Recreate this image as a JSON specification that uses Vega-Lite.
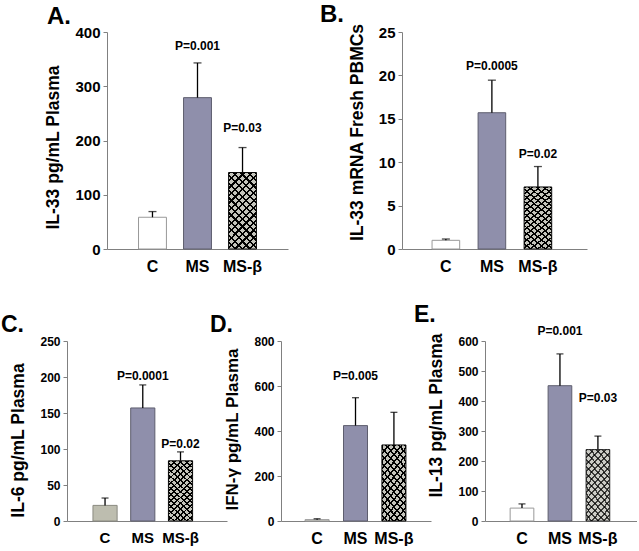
{
  "$schema": "https://vega.github.io/schema/vega-lite/v6.json",
  "background": "white",
  "padding": {"left": 1, "top": 3, "right": 0, "bottom": 0},
  "config": {
    "font": "Liberation Sans",
    "view": {"stroke": null},
    "axis": {"labelFont": "Liberation Sans", "titleFont": "Liberation Sans", "labelFontWeight": "bold", "titleFontWeight": "bold", "labelColor": "black", "titleColor": "black", "domainColor": "#808080", "tickColor": "#808080", "grid": false},
    "axisX": {"ticks": false, "labelAngle": 0, "title": null, "labelPadding": 9},
    "axisY": {"tickSize": 4, "labelPadding": 3, "titleAngle": -90, "labelOverlap": false},
    "title": {"font": "Liberation Sans", "fontWeight": "bold", "fontSize": 24, "anchor": "start", "frame": "group", "color": "black", "offset": -4},
    "text": {"font": "Liberation Sans", "fontWeight": "bold", "fontSize": 12}
  },
  "datasets": {
    "bars": [
      {"panel": "A", "group": "C", "value": 58.5, "err": 69, "p": "", "p_at": 0},
      {"panel": "A", "group": "MS", "value": 279, "err": 343, "p": "P=0.001", "p_at": 375},
      {"panel": "A", "group": "MS-β", "value": 141, "err": 187, "p": "P=0.03", "p_at": 223},
      {"panel": "B", "group": "C", "value": 1.0, "err": 1.15, "p": "", "p_at": 0},
      {"panel": "B", "group": "MS", "value": 15.7, "err": 19.45, "p": "P=0.0005", "p_at": 21.1},
      {"panel": "B", "group": "MS-β", "value": 7.15, "err": 9.5, "p": "P=0.02", "p_at": 10.9},
      {"panel": "C", "group": "C", "value": 21.7, "err": 31.9, "p": "", "p_at": 0},
      {"panel": "C", "group": "MS", "value": 157, "err": 189, "p": "P=0.0001", "p_at": 201.5},
      {"panel": "C", "group": "MS-β", "value": 83.6, "err": 96, "p": "P=0.02", "p_at": 106.7},
      {"panel": "D", "group": "C", "value": 6, "err": 10, "p": "", "p_at": 0},
      {"panel": "D", "group": "MS", "value": 424, "err": 548, "p": "P=0.005", "p_at": 646},
      {"panel": "D", "group": "MS-β", "value": 338, "err": 483, "p": "", "p_at": 0},
      {"panel": "E", "group": "C", "value": 43, "err": 57, "p": "", "p_at": 0},
      {"panel": "E", "group": "MS", "value": 451, "err": 557, "p": "P=0.001", "p_at": 634},
      {"panel": "E", "group": "MS-β", "value": 238, "err": 283, "p": "P=0.03", "p_at": 409}
    ]
  },
  "resolve": {"scale": {"fill": "independent", "stroke": "independent"}},
  "spacing": 29,
  "vconcat": [
    {
      "bounds": "flush",
      "spacing": 20,
      "resolve": {"scale": {"fill": "independent", "stroke": "independent"}},
      "hconcat": [
        {"width": 20, "height": 1, "data": {"values": []}, "mark": {"type": "rule"}, "encoding": {}},
        {
          "width": 181, "height": 217,
          "title": {"text": "A.", "dx": -60},
          "data": {"name": "bars"},
          "transform": [{"filter": "datum.panel == 'A'"}],
          "encoding": {
            "x": {"field": "group", "type": "nominal", "sort": null, "scale": {"paddingInner": 0.38, "paddingOuter": 0.7, "align": 0.5}, "axis": {"labelFontSize": 16}},
            "y": {"field": "value", "type": "quantitative", "scale": {"domain": [0, 400], "nice": false}, "axis": {"values": [0, 100, 200, 300, 400], "title": "IL-33 pg/mL Plasma", "labelFontSize": 15, "titleFontSize": 17.5, "titlePadding": 12, "titleY": 115}}
          },
          "layer": [
            {"mark": {"type": "bar", "strokeWidth": 1},
             "encoding": {
               "fill": {"field": "group", "type": "nominal", "scale": {"domain": ["C", "MS", "MS-β"], "range": ["#ffffff", "#8f8fab", "#c4c4bc"]}, "legend": null},
               "stroke": {"field": "group", "type": "nominal", "scale": {"domain": ["C", "MS", "MS-β"], "range": ["#999999", "#5e5e6e", "#111111"]}, "legend": null}}},
            {"transform": [{"filter": "datum.group == 'MS-β'"}], "mark": {"type": "bar", "strokeWidth": 0, "fill": {"gradient": "linear", "x1": 0, "y1": 0, "x2": 0.44, "y2": 1.2, "stops": [{"offset": 0, "color": "#000"}, {"offset": 0.0214, "color": "#000"}, {"offset": 0.0214, "color": "transparent"}, {"offset": 0.0714, "color": "transparent"}, {"offset": 0.0714, "color": "#000"}, {"offset": 0.0929, "color": "#000"}, {"offset": 0.0929, "color": "transparent"}, {"offset": 0.1429, "color": "transparent"}, {"offset": 0.1429, "color": "#000"}, {"offset": 0.1643, "color": "#000"}, {"offset": 0.1643, "color": "transparent"}, {"offset": 0.2143, "color": "transparent"}, {"offset": 0.2143, "color": "#000"}, {"offset": 0.2357, "color": "#000"}, {"offset": 0.2357, "color": "transparent"}, {"offset": 0.2857, "color": "transparent"}, {"offset": 0.2857, "color": "#000"}, {"offset": 0.3071, "color": "#000"}, {"offset": 0.3071, "color": "transparent"}, {"offset": 0.3571, "color": "transparent"}, {"offset": 0.3571, "color": "#000"}, {"offset": 0.3786, "color": "#000"}, {"offset": 0.3786, "color": "transparent"}, {"offset": 0.4286, "color": "transparent"}, {"offset": 0.4286, "color": "#000"}, {"offset": 0.45, "color": "#000"}, {"offset": 0.45, "color": "transparent"}, {"offset": 0.5, "color": "transparent"}, {"offset": 0.5, "color": "#000"}, {"offset": 0.5214, "color": "#000"}, {"offset": 0.5214, "color": "transparent"}, {"offset": 0.5714, "color": "transparent"}, {"offset": 0.5714, "color": "#000"}, {"offset": 0.5929, "color": "#000"}, {"offset": 0.5929, "color": "transparent"}, {"offset": 0.6429, "color": "transparent"}, {"offset": 0.6429, "color": "#000"}, {"offset": 0.6643, "color": "#000"}, {"offset": 0.6643, "color": "transparent"}, {"offset": 0.7143, "color": "transparent"}, {"offset": 0.7143, "color": "#000"}, {"offset": 0.7357, "color": "#000"}, {"offset": 0.7357, "color": "transparent"}, {"offset": 0.7857, "color": "transparent"}, {"offset": 0.7857, "color": "#000"}, {"offset": 0.8071, "color": "#000"}, {"offset": 0.8071, "color": "transparent"}, {"offset": 0.8571, "color": "transparent"}, {"offset": 0.8571, "color": "#000"}, {"offset": 0.8786, "color": "#000"}, {"offset": 0.8786, "color": "transparent"}, {"offset": 0.9286, "color": "transparent"}, {"offset": 0.9286, "color": "#000"}, {"offset": 0.95, "color": "#000"}, {"offset": 0.95, "color": "transparent"}, {"offset": 1, "color": "transparent"}]}}},
            {"transform": [{"filter": "datum.group == 'MS-β'"}], "mark": {"type": "bar", "strokeWidth": 0, "fill": {"gradient": "linear", "x1": 1, "y1": 0, "x2": 0.56, "y2": 1.2, "stops": [{"offset": 0, "color": "#000"}, {"offset": 0.0214, "color": "#000"}, {"offset": 0.0214, "color": "transparent"}, {"offset": 0.0714, "color": "transparent"}, {"offset": 0.0714, "color": "#000"}, {"offset": 0.0929, "color": "#000"}, {"offset": 0.0929, "color": "transparent"}, {"offset": 0.1429, "color": "transparent"}, {"offset": 0.1429, "color": "#000"}, {"offset": 0.1643, "color": "#000"}, {"offset": 0.1643, "color": "transparent"}, {"offset": 0.2143, "color": "transparent"}, {"offset": 0.2143, "color": "#000"}, {"offset": 0.2357, "color": "#000"}, {"offset": 0.2357, "color": "transparent"}, {"offset": 0.2857, "color": "transparent"}, {"offset": 0.2857, "color": "#000"}, {"offset": 0.3071, "color": "#000"}, {"offset": 0.3071, "color": "transparent"}, {"offset": 0.3571, "color": "transparent"}, {"offset": 0.3571, "color": "#000"}, {"offset": 0.3786, "color": "#000"}, {"offset": 0.3786, "color": "transparent"}, {"offset": 0.4286, "color": "transparent"}, {"offset": 0.4286, "color": "#000"}, {"offset": 0.45, "color": "#000"}, {"offset": 0.45, "color": "transparent"}, {"offset": 0.5, "color": "transparent"}, {"offset": 0.5, "color": "#000"}, {"offset": 0.5214, "color": "#000"}, {"offset": 0.5214, "color": "transparent"}, {"offset": 0.5714, "color": "transparent"}, {"offset": 0.5714, "color": "#000"}, {"offset": 0.5929, "color": "#000"}, {"offset": 0.5929, "color": "transparent"}, {"offset": 0.6429, "color": "transparent"}, {"offset": 0.6429, "color": "#000"}, {"offset": 0.6643, "color": "#000"}, {"offset": 0.6643, "color": "transparent"}, {"offset": 0.7143, "color": "transparent"}, {"offset": 0.7143, "color": "#000"}, {"offset": 0.7357, "color": "#000"}, {"offset": 0.7357, "color": "transparent"}, {"offset": 0.7857, "color": "transparent"}, {"offset": 0.7857, "color": "#000"}, {"offset": 0.8071, "color": "#000"}, {"offset": 0.8071, "color": "transparent"}, {"offset": 0.8571, "color": "transparent"}, {"offset": 0.8571, "color": "#000"}, {"offset": 0.8786, "color": "#000"}, {"offset": 0.8786, "color": "transparent"}, {"offset": 0.9286, "color": "transparent"}, {"offset": 0.9286, "color": "#000"}, {"offset": 0.95, "color": "#000"}, {"offset": 0.95, "color": "transparent"}, {"offset": 1, "color": "transparent"}]}}},
            {"mark": {"type": "rule", "color": "black", "strokeWidth": 1.3}, "encoding": {"y2": {"field": "err"}}},
            {"mark": {"type": "tick", "color": "black", "thickness": 1.3, "size": 8}, "encoding": {"y": {"field": "err", "type": "quantitative"}}},
            {"mark": {"type": "text", "baseline": "middle"}, "encoding": {"y": {"field": "p_at", "type": "quantitative"}, "text": {"field": "p"}}}
          ]
        },
        {"width": 74, "height": 1, "data": {"values": []}, "mark": {"type": "rule"}, "encoding": {}},
        {
          "width": 185, "height": 217,
          "title": {"text": "B.", "dx": -82},
          "data": {"name": "bars"},
          "transform": [{"filter": "datum.panel == 'B'"}],
          "encoding": {
            "x": {"field": "group", "type": "nominal", "sort": null, "scale": {"paddingInner": 0.4, "paddingOuter": 0.71, "align": 0.46}, "axis": {"labelFontSize": 16}},
            "y": {"field": "value", "type": "quantitative", "scale": {"domain": [0, 25], "nice": false}, "axis": {"values": [0, 5, 10, 15, 20, 25], "title": "IL-33 mRNA Fresh PBMCs", "labelFontSize": 15, "titleFontSize": 17.5, "titlePadding": 12, "titleY": 100}}
          },
          "layer": [
            {"mark": {"type": "bar", "strokeWidth": 1},
             "encoding": {
               "fill": {"field": "group", "type": "nominal", "scale": {"domain": ["C", "MS", "MS-β"], "range": ["#ffffff", "#8f8fab", "#c4c4bc"]}, "legend": null},
               "stroke": {"field": "group", "type": "nominal", "scale": {"domain": ["C", "MS", "MS-β"], "range": ["#999999", "#5e5e6e", "#111111"]}, "legend": null}}},
            {"transform": [{"filter": "datum.group == 'MS-β'"}], "mark": {"type": "bar", "strokeWidth": 0, "fill": {"gradient": "linear", "x1": 0, "y1": 0, "x2": 0.44, "y2": 1.2, "stops": [{"offset": 0, "color": "#000"}, {"offset": 0.0214, "color": "#000"}, {"offset": 0.0214, "color": "transparent"}, {"offset": 0.0714, "color": "transparent"}, {"offset": 0.0714, "color": "#000"}, {"offset": 0.0929, "color": "#000"}, {"offset": 0.0929, "color": "transparent"}, {"offset": 0.1429, "color": "transparent"}, {"offset": 0.1429, "color": "#000"}, {"offset": 0.1643, "color": "#000"}, {"offset": 0.1643, "color": "transparent"}, {"offset": 0.2143, "color": "transparent"}, {"offset": 0.2143, "color": "#000"}, {"offset": 0.2357, "color": "#000"}, {"offset": 0.2357, "color": "transparent"}, {"offset": 0.2857, "color": "transparent"}, {"offset": 0.2857, "color": "#000"}, {"offset": 0.3071, "color": "#000"}, {"offset": 0.3071, "color": "transparent"}, {"offset": 0.3571, "color": "transparent"}, {"offset": 0.3571, "color": "#000"}, {"offset": 0.3786, "color": "#000"}, {"offset": 0.3786, "color": "transparent"}, {"offset": 0.4286, "color": "transparent"}, {"offset": 0.4286, "color": "#000"}, {"offset": 0.45, "color": "#000"}, {"offset": 0.45, "color": "transparent"}, {"offset": 0.5, "color": "transparent"}, {"offset": 0.5, "color": "#000"}, {"offset": 0.5214, "color": "#000"}, {"offset": 0.5214, "color": "transparent"}, {"offset": 0.5714, "color": "transparent"}, {"offset": 0.5714, "color": "#000"}, {"offset": 0.5929, "color": "#000"}, {"offset": 0.5929, "color": "transparent"}, {"offset": 0.6429, "color": "transparent"}, {"offset": 0.6429, "color": "#000"}, {"offset": 0.6643, "color": "#000"}, {"offset": 0.6643, "color": "transparent"}, {"offset": 0.7143, "color": "transparent"}, {"offset": 0.7143, "color": "#000"}, {"offset": 0.7357, "color": "#000"}, {"offset": 0.7357, "color": "transparent"}, {"offset": 0.7857, "color": "transparent"}, {"offset": 0.7857, "color": "#000"}, {"offset": 0.8071, "color": "#000"}, {"offset": 0.8071, "color": "transparent"}, {"offset": 0.8571, "color": "transparent"}, {"offset": 0.8571, "color": "#000"}, {"offset": 0.8786, "color": "#000"}, {"offset": 0.8786, "color": "transparent"}, {"offset": 0.9286, "color": "transparent"}, {"offset": 0.9286, "color": "#000"}, {"offset": 0.95, "color": "#000"}, {"offset": 0.95, "color": "transparent"}, {"offset": 1, "color": "transparent"}]}}},
            {"transform": [{"filter": "datum.group == 'MS-β'"}], "mark": {"type": "bar", "strokeWidth": 0, "fill": {"gradient": "linear", "x1": 1, "y1": 0, "x2": 0.56, "y2": 1.2, "stops": [{"offset": 0, "color": "#000"}, {"offset": 0.0214, "color": "#000"}, {"offset": 0.0214, "color": "transparent"}, {"offset": 0.0714, "color": "transparent"}, {"offset": 0.0714, "color": "#000"}, {"offset": 0.0929, "color": "#000"}, {"offset": 0.0929, "color": "transparent"}, {"offset": 0.1429, "color": "transparent"}, {"offset": 0.1429, "color": "#000"}, {"offset": 0.1643, "color": "#000"}, {"offset": 0.1643, "color": "transparent"}, {"offset": 0.2143, "color": "transparent"}, {"offset": 0.2143, "color": "#000"}, {"offset": 0.2357, "color": "#000"}, {"offset": 0.2357, "color": "transparent"}, {"offset": 0.2857, "color": "transparent"}, {"offset": 0.2857, "color": "#000"}, {"offset": 0.3071, "color": "#000"}, {"offset": 0.3071, "color": "transparent"}, {"offset": 0.3571, "color": "transparent"}, {"offset": 0.3571, "color": "#000"}, {"offset": 0.3786, "color": "#000"}, {"offset": 0.3786, "color": "transparent"}, {"offset": 0.4286, "color": "transparent"}, {"offset": 0.4286, "color": "#000"}, {"offset": 0.45, "color": "#000"}, {"offset": 0.45, "color": "transparent"}, {"offset": 0.5, "color": "transparent"}, {"offset": 0.5, "color": "#000"}, {"offset": 0.5214, "color": "#000"}, {"offset": 0.5214, "color": "transparent"}, {"offset": 0.5714, "color": "transparent"}, {"offset": 0.5714, "color": "#000"}, {"offset": 0.5929, "color": "#000"}, {"offset": 0.5929, "color": "transparent"}, {"offset": 0.6429, "color": "transparent"}, {"offset": 0.6429, "color": "#000"}, {"offset": 0.6643, "color": "#000"}, {"offset": 0.6643, "color": "transparent"}, {"offset": 0.7143, "color": "transparent"}, {"offset": 0.7143, "color": "#000"}, {"offset": 0.7357, "color": "#000"}, {"offset": 0.7357, "color": "transparent"}, {"offset": 0.7857, "color": "transparent"}, {"offset": 0.7857, "color": "#000"}, {"offset": 0.8071, "color": "#000"}, {"offset": 0.8071, "color": "transparent"}, {"offset": 0.8571, "color": "transparent"}, {"offset": 0.8571, "color": "#000"}, {"offset": 0.8786, "color": "#000"}, {"offset": 0.8786, "color": "transparent"}, {"offset": 0.9286, "color": "transparent"}, {"offset": 0.9286, "color": "#000"}, {"offset": 0.95, "color": "#000"}, {"offset": 0.95, "color": "transparent"}, {"offset": 1, "color": "transparent"}]}}},
            {"mark": {"type": "rule", "color": "black", "strokeWidth": 1.3}, "encoding": {"y2": {"field": "err"}}},
            {"mark": {"type": "tick", "color": "black", "thickness": 1.3, "size": 8}, "encoding": {"y": {"field": "err", "type": "quantitative"}}},
            {"mark": {"type": "text", "baseline": "middle"}, "encoding": {"y": {"field": "p_at", "type": "quantitative"}, "text": {"field": "p"}}}
          ]
        }
      ]
    },
    {
      "bounds": "flush",
      "spacing": 54,
      "resolve": {"scale": {"fill": "independent", "stroke": "independent"}},
      "hconcat": [
        {
          "width": 160, "height": 180,
          "title": {"text": "C.", "dx": -66, "fontSize": 23, "offset": -2},
          "data": {"name": "bars"},
          "transform": [{"filter": "datum.panel == 'C'"}],
          "encoding": {
            "x": {"field": "group", "type": "nominal", "sort": null, "scale": {"paddingInner": 0.36, "paddingOuter": 0.8, "align": 0.43}, "axis": {"labelFontSize": 15}},
            "y": {"field": "value", "type": "quantitative", "scale": {"domain": [0, 250], "nice": false}, "axis": {"values": [0, 50, 100, 150, 200, 250], "title": "IL-6 pg/mL Plasma", "labelFontSize": 12, "titleFontSize": 17.5, "titlePadding": 12, "titleY": 99}}
          },
          "layer": [
            {"mark": {"type": "bar", "strokeWidth": 1},
             "encoding": {
               "fill": {"field": "group", "type": "nominal", "scale": {"domain": ["C", "MS", "MS-β"], "range": ["#bdbdaf", "#8f8fab", "#c4c4bc"]}, "legend": null},
               "stroke": {"field": "group", "type": "nominal", "scale": {"domain": ["C", "MS", "MS-β"], "range": ["#8a8a80", "#5e5e6e", "#111111"]}, "legend": null}}},
            {"transform": [{"filter": "datum.group == 'MS-β'"}], "mark": {"type": "bar", "strokeWidth": 0, "fill": {"gradient": "linear", "x1": 0, "y1": 0, "x2": 0.44, "y2": 1.2, "stops": [{"offset": 0, "color": "#000"}, {"offset": 0.0214, "color": "#000"}, {"offset": 0.0214, "color": "transparent"}, {"offset": 0.0714, "color": "transparent"}, {"offset": 0.0714, "color": "#000"}, {"offset": 0.0929, "color": "#000"}, {"offset": 0.0929, "color": "transparent"}, {"offset": 0.1429, "color": "transparent"}, {"offset": 0.1429, "color": "#000"}, {"offset": 0.1643, "color": "#000"}, {"offset": 0.1643, "color": "transparent"}, {"offset": 0.2143, "color": "transparent"}, {"offset": 0.2143, "color": "#000"}, {"offset": 0.2357, "color": "#000"}, {"offset": 0.2357, "color": "transparent"}, {"offset": 0.2857, "color": "transparent"}, {"offset": 0.2857, "color": "#000"}, {"offset": 0.3071, "color": "#000"}, {"offset": 0.3071, "color": "transparent"}, {"offset": 0.3571, "color": "transparent"}, {"offset": 0.3571, "color": "#000"}, {"offset": 0.3786, "color": "#000"}, {"offset": 0.3786, "color": "transparent"}, {"offset": 0.4286, "color": "transparent"}, {"offset": 0.4286, "color": "#000"}, {"offset": 0.45, "color": "#000"}, {"offset": 0.45, "color": "transparent"}, {"offset": 0.5, "color": "transparent"}, {"offset": 0.5, "color": "#000"}, {"offset": 0.5214, "color": "#000"}, {"offset": 0.5214, "color": "transparent"}, {"offset": 0.5714, "color": "transparent"}, {"offset": 0.5714, "color": "#000"}, {"offset": 0.5929, "color": "#000"}, {"offset": 0.5929, "color": "transparent"}, {"offset": 0.6429, "color": "transparent"}, {"offset": 0.6429, "color": "#000"}, {"offset": 0.6643, "color": "#000"}, {"offset": 0.6643, "color": "transparent"}, {"offset": 0.7143, "color": "transparent"}, {"offset": 0.7143, "color": "#000"}, {"offset": 0.7357, "color": "#000"}, {"offset": 0.7357, "color": "transparent"}, {"offset": 0.7857, "color": "transparent"}, {"offset": 0.7857, "color": "#000"}, {"offset": 0.8071, "color": "#000"}, {"offset": 0.8071, "color": "transparent"}, {"offset": 0.8571, "color": "transparent"}, {"offset": 0.8571, "color": "#000"}, {"offset": 0.8786, "color": "#000"}, {"offset": 0.8786, "color": "transparent"}, {"offset": 0.9286, "color": "transparent"}, {"offset": 0.9286, "color": "#000"}, {"offset": 0.95, "color": "#000"}, {"offset": 0.95, "color": "transparent"}, {"offset": 1, "color": "transparent"}]}}},
            {"transform": [{"filter": "datum.group == 'MS-β'"}], "mark": {"type": "bar", "strokeWidth": 0, "fill": {"gradient": "linear", "x1": 1, "y1": 0, "x2": 0.56, "y2": 1.2, "stops": [{"offset": 0, "color": "#000"}, {"offset": 0.0214, "color": "#000"}, {"offset": 0.0214, "color": "transparent"}, {"offset": 0.0714, "color": "transparent"}, {"offset": 0.0714, "color": "#000"}, {"offset": 0.0929, "color": "#000"}, {"offset": 0.0929, "color": "transparent"}, {"offset": 0.1429, "color": "transparent"}, {"offset": 0.1429, "color": "#000"}, {"offset": 0.1643, "color": "#000"}, {"offset": 0.1643, "color": "transparent"}, {"offset": 0.2143, "color": "transparent"}, {"offset": 0.2143, "color": "#000"}, {"offset": 0.2357, "color": "#000"}, {"offset": 0.2357, "color": "transparent"}, {"offset": 0.2857, "color": "transparent"}, {"offset": 0.2857, "color": "#000"}, {"offset": 0.3071, "color": "#000"}, {"offset": 0.3071, "color": "transparent"}, {"offset": 0.3571, "color": "transparent"}, {"offset": 0.3571, "color": "#000"}, {"offset": 0.3786, "color": "#000"}, {"offset": 0.3786, "color": "transparent"}, {"offset": 0.4286, "color": "transparent"}, {"offset": 0.4286, "color": "#000"}, {"offset": 0.45, "color": "#000"}, {"offset": 0.45, "color": "transparent"}, {"offset": 0.5, "color": "transparent"}, {"offset": 0.5, "color": "#000"}, {"offset": 0.5214, "color": "#000"}, {"offset": 0.5214, "color": "transparent"}, {"offset": 0.5714, "color": "transparent"}, {"offset": 0.5714, "color": "#000"}, {"offset": 0.5929, "color": "#000"}, {"offset": 0.5929, "color": "transparent"}, {"offset": 0.6429, "color": "transparent"}, {"offset": 0.6429, "color": "#000"}, {"offset": 0.6643, "color": "#000"}, {"offset": 0.6643, "color": "transparent"}, {"offset": 0.7143, "color": "transparent"}, {"offset": 0.7143, "color": "#000"}, {"offset": 0.7357, "color": "#000"}, {"offset": 0.7357, "color": "transparent"}, {"offset": 0.7857, "color": "transparent"}, {"offset": 0.7857, "color": "#000"}, {"offset": 0.8071, "color": "#000"}, {"offset": 0.8071, "color": "transparent"}, {"offset": 0.8571, "color": "transparent"}, {"offset": 0.8571, "color": "#000"}, {"offset": 0.8786, "color": "#000"}, {"offset": 0.8786, "color": "transparent"}, {"offset": 0.9286, "color": "transparent"}, {"offset": 0.9286, "color": "#000"}, {"offset": 0.95, "color": "#000"}, {"offset": 0.95, "color": "transparent"}, {"offset": 1, "color": "transparent"}]}}},
            {"mark": {"type": "rule", "color": "black", "strokeWidth": 1.3}, "encoding": {"y2": {"field": "err"}}},
            {"mark": {"type": "tick", "color": "black", "thickness": 1.3, "size": 7}, "encoding": {"y": {"field": "err", "type": "quantitative"}}},
            {"mark": {"type": "text", "baseline": "middle"}, "encoding": {"y": {"field": "p_at", "type": "quantitative"}, "text": {"field": "p"}}}
          ]
        },
        {
          "width": 150, "height": 180,
          "title": {"text": "D.", "dx": -71, "fontSize": 23, "offset": -2},
          "data": {"name": "bars"},
          "transform": [{"filter": "datum.panel == 'D'"}],
          "encoding": {
            "x": {"field": "group", "type": "nominal", "sort": null, "scale": {"paddingInner": 0.375, "paddingOuter": 0.64, "align": 0.49}, "axis": {"labelFontSize": 16}},
            "y": {"field": "value", "type": "quantitative", "scale": {"domain": [0, 800], "nice": false}, "axis": {"values": [0, 200, 400, 600, 800], "title": "IFN-γ pg/mL Plasma", "labelFontSize": 12, "titleFontSize": 17, "titlePadding": 12, "titleY": 88}}
          },
          "layer": [
            {"mark": {"type": "bar", "strokeWidth": 1},
             "encoding": {
               "fill": {"field": "group", "type": "nominal", "scale": {"domain": ["C", "MS", "MS-β"], "range": ["#d8d8d0", "#8f8fab", "#c4c4bc"]}, "legend": null},
               "stroke": {"field": "group", "type": "nominal", "scale": {"domain": ["C", "MS", "MS-β"], "range": ["#999999", "#5e5e6e", "#111111"]}, "legend": null}}},
            {"transform": [{"filter": "datum.group == 'MS-β'"}], "mark": {"type": "bar", "strokeWidth": 0, "fill": {"gradient": "linear", "x1": 0.001, "y1": 0.001, "x2": 0.45, "y2": 1.21, "stops": [{"offset": 0, "color": "#000"}, {"offset": 0.0214, "color": "#000"}, {"offset": 0.0214, "color": "transparent"}, {"offset": 0.0714, "color": "transparent"}, {"offset": 0.0714, "color": "#000"}, {"offset": 0.0929, "color": "#000"}, {"offset": 0.0929, "color": "transparent"}, {"offset": 0.1429, "color": "transparent"}, {"offset": 0.1429, "color": "#000"}, {"offset": 0.1643, "color": "#000"}, {"offset": 0.1643, "color": "transparent"}, {"offset": 0.2143, "color": "transparent"}, {"offset": 0.2143, "color": "#000"}, {"offset": 0.2357, "color": "#000"}, {"offset": 0.2357, "color": "transparent"}, {"offset": 0.2857, "color": "transparent"}, {"offset": 0.2857, "color": "#000"}, {"offset": 0.3071, "color": "#000"}, {"offset": 0.3071, "color": "transparent"}, {"offset": 0.3571, "color": "transparent"}, {"offset": 0.3571, "color": "#000"}, {"offset": 0.3786, "color": "#000"}, {"offset": 0.3786, "color": "transparent"}, {"offset": 0.4286, "color": "transparent"}, {"offset": 0.4286, "color": "#000"}, {"offset": 0.45, "color": "#000"}, {"offset": 0.45, "color": "transparent"}, {"offset": 0.5, "color": "transparent"}, {"offset": 0.5, "color": "#000"}, {"offset": 0.5214, "color": "#000"}, {"offset": 0.5214, "color": "transparent"}, {"offset": 0.5714, "color": "transparent"}, {"offset": 0.5714, "color": "#000"}, {"offset": 0.5929, "color": "#000"}, {"offset": 0.5929, "color": "transparent"}, {"offset": 0.6429, "color": "transparent"}, {"offset": 0.6429, "color": "#000"}, {"offset": 0.6643, "color": "#000"}, {"offset": 0.6643, "color": "transparent"}, {"offset": 0.7143, "color": "transparent"}, {"offset": 0.7143, "color": "#000"}, {"offset": 0.7357, "color": "#000"}, {"offset": 0.7357, "color": "transparent"}, {"offset": 0.7857, "color": "transparent"}, {"offset": 0.7857, "color": "#000"}, {"offset": 0.8071, "color": "#000"}, {"offset": 0.8071, "color": "transparent"}, {"offset": 0.8571, "color": "transparent"}, {"offset": 0.8571, "color": "#000"}, {"offset": 0.8786, "color": "#000"}, {"offset": 0.8786, "color": "transparent"}, {"offset": 0.9286, "color": "transparent"}, {"offset": 0.9286, "color": "#000"}, {"offset": 0.95, "color": "#000"}, {"offset": 0.95, "color": "transparent"}, {"offset": 1, "color": "transparent"}]}}},
            {"transform": [{"filter": "datum.group == 'MS-β'"}], "mark": {"type": "bar", "strokeWidth": 0, "fill": {"gradient": "linear", "x1": 0.999, "y1": 0.001, "x2": 0.55, "y2": 1.21, "stops": [{"offset": 0, "color": "#000"}, {"offset": 0.0214, "color": "#000"}, {"offset": 0.0214, "color": "transparent"}, {"offset": 0.0714, "color": "transparent"}, {"offset": 0.0714, "color": "#000"}, {"offset": 0.0929, "color": "#000"}, {"offset": 0.0929, "color": "transparent"}, {"offset": 0.1429, "color": "transparent"}, {"offset": 0.1429, "color": "#000"}, {"offset": 0.1643, "color": "#000"}, {"offset": 0.1643, "color": "transparent"}, {"offset": 0.2143, "color": "transparent"}, {"offset": 0.2143, "color": "#000"}, {"offset": 0.2357, "color": "#000"}, {"offset": 0.2357, "color": "transparent"}, {"offset": 0.2857, "color": "transparent"}, {"offset": 0.2857, "color": "#000"}, {"offset": 0.3071, "color": "#000"}, {"offset": 0.3071, "color": "transparent"}, {"offset": 0.3571, "color": "transparent"}, {"offset": 0.3571, "color": "#000"}, {"offset": 0.3786, "color": "#000"}, {"offset": 0.3786, "color": "transparent"}, {"offset": 0.4286, "color": "transparent"}, {"offset": 0.4286, "color": "#000"}, {"offset": 0.45, "color": "#000"}, {"offset": 0.45, "color": "transparent"}, {"offset": 0.5, "color": "transparent"}, {"offset": 0.5, "color": "#000"}, {"offset": 0.5214, "color": "#000"}, {"offset": 0.5214, "color": "transparent"}, {"offset": 0.5714, "color": "transparent"}, {"offset": 0.5714, "color": "#000"}, {"offset": 0.5929, "color": "#000"}, {"offset": 0.5929, "color": "transparent"}, {"offset": 0.6429, "color": "transparent"}, {"offset": 0.6429, "color": "#000"}, {"offset": 0.6643, "color": "#000"}, {"offset": 0.6643, "color": "transparent"}, {"offset": 0.7143, "color": "transparent"}, {"offset": 0.7143, "color": "#000"}, {"offset": 0.7357, "color": "#000"}, {"offset": 0.7357, "color": "transparent"}, {"offset": 0.7857, "color": "transparent"}, {"offset": 0.7857, "color": "#000"}, {"offset": 0.8071, "color": "#000"}, {"offset": 0.8071, "color": "transparent"}, {"offset": 0.8571, "color": "transparent"}, {"offset": 0.8571, "color": "#000"}, {"offset": 0.8786, "color": "#000"}, {"offset": 0.8786, "color": "transparent"}, {"offset": 0.9286, "color": "transparent"}, {"offset": 0.9286, "color": "#000"}, {"offset": 0.95, "color": "#000"}, {"offset": 0.95, "color": "transparent"}, {"offset": 1, "color": "transparent"}]}}},
            {"mark": {"type": "rule", "color": "black", "strokeWidth": 1.3}, "encoding": {"y2": {"field": "err"}}},
            {"mark": {"type": "tick", "color": "black", "thickness": 1.3, "size": 7}, "encoding": {"y": {"field": "err", "type": "quantitative"}}},
            {"mark": {"type": "text", "baseline": "middle"}, "encoding": {"y": {"field": "p_at", "type": "quantitative"}, "text": {"field": "p"}}}
          ]
        },
        {
          "width": 152, "height": 180,
          "title": {"text": "E.", "dx": -71, "fontSize": 23, "offset": -2},
          "data": {"name": "bars"},
          "transform": [{"filter": "datum.panel == 'E'"}],
          "encoding": {
            "x": {"field": "group", "type": "nominal", "sort": null, "scale": {"paddingInner": 0.376, "paddingOuter": 0.69, "align": 0.48}, "axis": {"labelFontSize": 16}},
            "y": {"field": "value", "type": "quantitative", "scale": {"domain": [0, 600], "nice": false}, "axis": {"values": [0, 100, 200, 300, 400, 500, 600], "title": "IL-13 pg/mL Plasma", "labelFontSize": 12, "titleFontSize": 17.5, "titlePadding": 12, "titleY": 74}}
          },
          "layer": [
            {"mark": {"type": "bar", "strokeWidth": 1},
             "encoding": {
               "fill": {"field": "group", "type": "nominal", "scale": {"domain": ["C", "MS", "MS-β"], "range": ["#ffffff", "#8f8fab", "#cdcdc7"]}, "legend": null},
               "stroke": {"field": "group", "type": "nominal", "scale": {"domain": ["C", "MS", "MS-β"], "range": ["#999999", "#5e5e6e", "#333333"]}, "legend": null}}},
            {"transform": [{"filter": "datum.group == 'MS-β'"}], "mark": {"type": "bar", "strokeWidth": 0, "opacity": 0.7, "fill": {"gradient": "linear", "x1": 0, "y1": 0, "x2": 0.44, "y2": 1.2, "stops": [{"offset": 0, "color": "#000"}, {"offset": 0.0214, "color": "#000"}, {"offset": 0.0214, "color": "transparent"}, {"offset": 0.0714, "color": "transparent"}, {"offset": 0.0714, "color": "#000"}, {"offset": 0.0929, "color": "#000"}, {"offset": 0.0929, "color": "transparent"}, {"offset": 0.1429, "color": "transparent"}, {"offset": 0.1429, "color": "#000"}, {"offset": 0.1643, "color": "#000"}, {"offset": 0.1643, "color": "transparent"}, {"offset": 0.2143, "color": "transparent"}, {"offset": 0.2143, "color": "#000"}, {"offset": 0.2357, "color": "#000"}, {"offset": 0.2357, "color": "transparent"}, {"offset": 0.2857, "color": "transparent"}, {"offset": 0.2857, "color": "#000"}, {"offset": 0.3071, "color": "#000"}, {"offset": 0.3071, "color": "transparent"}, {"offset": 0.3571, "color": "transparent"}, {"offset": 0.3571, "color": "#000"}, {"offset": 0.3786, "color": "#000"}, {"offset": 0.3786, "color": "transparent"}, {"offset": 0.4286, "color": "transparent"}, {"offset": 0.4286, "color": "#000"}, {"offset": 0.45, "color": "#000"}, {"offset": 0.45, "color": "transparent"}, {"offset": 0.5, "color": "transparent"}, {"offset": 0.5, "color": "#000"}, {"offset": 0.5214, "color": "#000"}, {"offset": 0.5214, "color": "transparent"}, {"offset": 0.5714, "color": "transparent"}, {"offset": 0.5714, "color": "#000"}, {"offset": 0.5929, "color": "#000"}, {"offset": 0.5929, "color": "transparent"}, {"offset": 0.6429, "color": "transparent"}, {"offset": 0.6429, "color": "#000"}, {"offset": 0.6643, "color": "#000"}, {"offset": 0.6643, "color": "transparent"}, {"offset": 0.7143, "color": "transparent"}, {"offset": 0.7143, "color": "#000"}, {"offset": 0.7357, "color": "#000"}, {"offset": 0.7357, "color": "transparent"}, {"offset": 0.7857, "color": "transparent"}, {"offset": 0.7857, "color": "#000"}, {"offset": 0.8071, "color": "#000"}, {"offset": 0.8071, "color": "transparent"}, {"offset": 0.8571, "color": "transparent"}, {"offset": 0.8571, "color": "#000"}, {"offset": 0.8786, "color": "#000"}, {"offset": 0.8786, "color": "transparent"}, {"offset": 0.9286, "color": "transparent"}, {"offset": 0.9286, "color": "#000"}, {"offset": 0.95, "color": "#000"}, {"offset": 0.95, "color": "transparent"}, {"offset": 1, "color": "transparent"}]}}},
            {"transform": [{"filter": "datum.group == 'MS-β'"}], "mark": {"type": "bar", "strokeWidth": 0, "opacity": 0.7, "fill": {"gradient": "linear", "x1": 1, "y1": 0, "x2": 0.56, "y2": 1.2, "stops": [{"offset": 0, "color": "#000"}, {"offset": 0.0214, "color": "#000"}, {"offset": 0.0214, "color": "transparent"}, {"offset": 0.0714, "color": "transparent"}, {"offset": 0.0714, "color": "#000"}, {"offset": 0.0929, "color": "#000"}, {"offset": 0.0929, "color": "transparent"}, {"offset": 0.1429, "color": "transparent"}, {"offset": 0.1429, "color": "#000"}, {"offset": 0.1643, "color": "#000"}, {"offset": 0.1643, "color": "transparent"}, {"offset": 0.2143, "color": "transparent"}, {"offset": 0.2143, "color": "#000"}, {"offset": 0.2357, "color": "#000"}, {"offset": 0.2357, "color": "transparent"}, {"offset": 0.2857, "color": "transparent"}, {"offset": 0.2857, "color": "#000"}, {"offset": 0.3071, "color": "#000"}, {"offset": 0.3071, "color": "transparent"}, {"offset": 0.3571, "color": "transparent"}, {"offset": 0.3571, "color": "#000"}, {"offset": 0.3786, "color": "#000"}, {"offset": 0.3786, "color": "transparent"}, {"offset": 0.4286, "color": "transparent"}, {"offset": 0.4286, "color": "#000"}, {"offset": 0.45, "color": "#000"}, {"offset": 0.45, "color": "transparent"}, {"offset": 0.5, "color": "transparent"}, {"offset": 0.5, "color": "#000"}, {"offset": 0.5214, "color": "#000"}, {"offset": 0.5214, "color": "transparent"}, {"offset": 0.5714, "color": "transparent"}, {"offset": 0.5714, "color": "#000"}, {"offset": 0.5929, "color": "#000"}, {"offset": 0.5929, "color": "transparent"}, {"offset": 0.6429, "color": "transparent"}, {"offset": 0.6429, "color": "#000"}, {"offset": 0.6643, "color": "#000"}, {"offset": 0.6643, "color": "transparent"}, {"offset": 0.7143, "color": "transparent"}, {"offset": 0.7143, "color": "#000"}, {"offset": 0.7357, "color": "#000"}, {"offset": 0.7357, "color": "transparent"}, {"offset": 0.7857, "color": "transparent"}, {"offset": 0.7857, "color": "#000"}, {"offset": 0.8071, "color": "#000"}, {"offset": 0.8071, "color": "transparent"}, {"offset": 0.8571, "color": "transparent"}, {"offset": 0.8571, "color": "#000"}, {"offset": 0.8786, "color": "#000"}, {"offset": 0.8786, "color": "transparent"}, {"offset": 0.9286, "color": "transparent"}, {"offset": 0.9286, "color": "#000"}, {"offset": 0.95, "color": "#000"}, {"offset": 0.95, "color": "transparent"}, {"offset": 1, "color": "transparent"}]}}},
            {"mark": {"type": "rule", "color": "black", "strokeWidth": 1.3}, "encoding": {"y2": {"field": "err"}}},
            {"mark": {"type": "tick", "color": "black", "thickness": 1.3, "size": 7}, "encoding": {"y": {"field": "err", "type": "quantitative"}}},
            {"mark": {"type": "text", "baseline": "middle"}, "encoding": {"y": {"field": "p_at", "type": "quantitative"}, "text": {"field": "p"}}}
          ]
        }
      ]
    }
  ]
}
